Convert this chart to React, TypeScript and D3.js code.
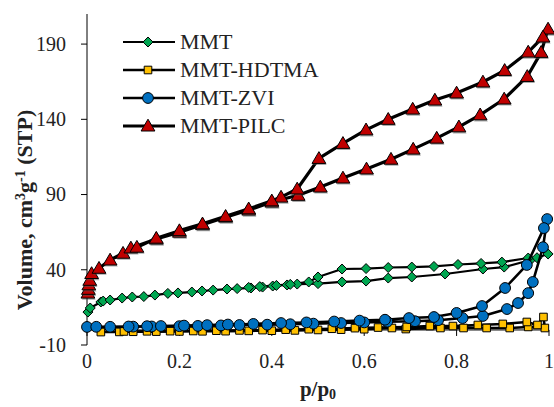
import React from 'react';
import * as d3 from 'd3';

const W = 554;
const H = 407;

// MMT - diamantes verdes (adsorción y luego desorción)
const mmtP = [0.002, 0.007, 0.03, 0.035, 0.05, 0.076, 0.098, 0.123, 0.147, 0.175, 0.197, 0.227, 0.249, 0.273, 0.303, 0.325, 0.355, 0.38, 0.402, 0.433, 0.455, 0.5, 0.552, 0.604, 0.652, 0.703, 0.775, 0.857, 0.903, 0.96, 0.998,
  0.974, 0.955, 0.898, 0.853, 0.803, 0.751, 0.703, 0.652, 0.604, 0.552, 0.5, 0.48, 0.44, 0.41, 0.374, 0.35];
const mmtV = [11.9, 14.6, 18.6, 19.2, 19.9, 21.2, 21.9, 22.2, 23.2, 24.3, 24.6, 25.2, 25.9, 26.5, 27.2, 27.5, 27.9, 28.5, 29.2, 29.9, 30.5, 30.8, 31.9, 32.5, 34.5, 35.2, 37.2, 40.5, 41.8, 46.5, 50.5,
  48, 47.8, 45.1, 44.2, 43.5, 42.2, 41.8, 41.5, 40.8, 40.5, 35.2, 31.9, 30.3, 29.6, 28.8, 28.3];

// MMT-HDTMA - cuadrados amarillos
const hdtmaP = [0.03, 0.07, 0.1, 0.15, 0.2, 0.25, 0.3, 0.35, 0.4, 0.45, 0.5, 0.55, 0.6, 0.66, 0.69, 0.765, 0.815, 0.865, 0.915, 0.955, 0.991,
  0.988, 0.975, 0.952, 0.9, 0.846, 0.792, 0.742, 0.692, 0.63, 0.58, 0.53, 0.48, 0.43, 0.38, 0.33, 0.28, 0.23, 0.18, 0.13, 0.08];
const hdtmaV = [-1.4, -1.3, -1.2, -1.1, -1, -0.9, -0.8, -0.6, -0.5, -0.3, 0, 0.2, 0.5, 1.3, 0.6, 1.3, 1.3, 1.3, 1.3, 2, 1.3,
  8.6, 3.3, 5.3, 4, 3.3, 2.6, 2.6, 2, 1.6, 1.2, 0.8, 0.5, 0.2, -0.1, -0.3, -0.5, -0.7, -0.8, -0.9, -1];

// MMT-ZVI - círculos azules
const zviP = [0.0, 0.05, 0.1, 0.14, 0.2, 0.24, 0.29, 0.33, 0.39, 0.44, 0.49, 0.55, 0.6, 0.65, 0.71, 0.76, 0.813, 0.857, 0.909, 0.933, 0.955, 0.965, 0.987, 0.996,
  0.989, 0.952, 0.905, 0.855, 0.8, 0.751, 0.697, 0.645, 0.59, 0.535, 0.475, 0.42, 0.36, 0.305, 0.26, 0.21, 0.16, 0.13, 0.09, 0.02];
const zviV = [2, 2.1, 2.2, 2.3, 2.5, 2.7, 3, 3.3, 3.5, 3.8, 4.2, 4.6, 5, 5.5, 5.8, 6.5, 7.9, 9.3, 13.9, 17.9, 24.5, 31.9, 55, 73.7,
  67.7, 43.2, 27.9, 15.9, 11.3, 8.6, 7.9, 6.8, 6.2, 5.6, 5, 4.6, 4, 3.6, 3.2, 2.9, 2.6, 2.5, 2.3, 2.1];

// MMT-PILC - triángulos rojos
const pilcP = [0.002, 0.003, 0.004, 0.006, 0.01, 0.026, 0.05, 0.078, 0.095, 0.15, 0.2, 0.25, 0.3, 0.35, 0.4, 0.457, 0.505, 0.554, 0.605, 0.658, 0.706, 0.757, 0.805, 0.851, 0.903, 0.953, 0.983, 0.998,
  0.987, 0.955, 0.904, 0.857, 0.8, 0.753, 0.705, 0.652, 0.604, 0.554, 0.502, 0.455, 0.42, 0.4, 0.35, 0.3, 0.25, 0.2, 0.15, 0.108];
const pilcV = [24.5, 27, 30, 33, 37.5, 41, 46.5, 51, 54.5, 60.4, 65, 70, 75, 79.7, 85, 89.5, 95, 101, 107, 113.5, 120.2, 127.5, 135, 143, 153.5, 168.5, 184.5, 200,
  194.7, 184.7, 172.5, 164.8, 157.5, 152.8, 146.8, 140, 133, 124, 114, 93.7, 88.3, 85.8, 80.5, 75.5, 70.5, 66, 61, 55];

const xTicks = [0, 0.2, 0.4, 0.6, 0.8, 1];
const yTicks = [-10, 40, 90, 140, 190];

const FONT = "'Liberation Serif', 'Times New Roman', serif";

const series = [
  { name: 'MMT', p: mmtP, v: mmtV, fill: '#00A651', shape: 'diamond', lw: 2.2 },
  { name: 'MMT-HDTMA', p: hdtmaP, v: hdtmaV, fill: '#FFC000', shape: 'square', lw: 2.6 },
  { name: 'MMT-ZVI', p: zviP, v: zviV, fill: '#0070C0', shape: 'circle', lw: 2.6 },
  { name: 'MMT-PILC', p: pilcP, v: pilcV, fill: '#C00000', shape: 'triangle', lw: 3.2 },
];

function markerPath(shape: string) {
  switch (shape) {
    case 'diamond': return 'M0,-5L5,0L0,5L-5,0Z';
    case 'square': return 'M-3.8,-3.8H3.8V3.8H-3.8Z';
    case 'circle': return 'M5.4,0A5.4,5.4 0 1,1 -5.4,0A5.4,5.4 0 1,1 5.4,0Z';
    default: return 'M0,-6.8L6.9,5L-6.9,5Z';
  }
}

export default function App() {
  const x = d3.scaleLinear().domain([0, 1]).range([87, 549]);
  const y = d3.scaleLinear().domain([-10, 210]).range([345, 14]);
  const line = d3.line<[number, number]>().x(d => x(d[0])).y(d => y(d[1]));

  return (
    <svg width={W} height={H} style={{ position: 'absolute', left: 0, top: 0, background: '#fff' }} fontFamily={FONT}>
      {/* Eje Y */}
      <line x1={x(0)} x2={x(0)} y1={y(210)} y2={y(-10)} stroke="#000" strokeWidth={1} />
      {yTicks.map(t => (
        <g key={t}>
          <line x1={x(0) - 6} x2={x(0)} y1={y(t)} y2={y(t)} stroke="#000" strokeWidth={1} />
          <text x={66} y={y(t)} dy="0.34em" textAnchor="end" fontSize={20} fill="#222">{t}</text>
        </g>
      ))}
      {/* Eje X (cruza en 0) */}
      <line x1={x(0)} x2={x(1)} y1={y(0)} y2={y(0)} stroke="#000" strokeWidth={1} />
      {xTicks.map(t => (
        <g key={t}>
          <line x1={x(t)} x2={x(t)} y1={y(0)} y2={y(0) + 6} stroke="#000" strokeWidth={1} />
          <text x={x(t)} y={368} textAnchor="middle" fontSize={20} fill="#222">{t}</text>
        </g>
      ))}
      {/* Series */}
      {series.map(s => {
        const pts = s.p.map((p, i) => [p, s.v[i]] as [number, number]);
        return (
          <g key={s.name}>
            <path d={line(pts) || ''} fill="none" stroke="#000" strokeWidth={s.lw} strokeLinejoin="round" />
            {pts.map((d, i) => (
              <g key={i} transform={`translate(${x(d[0])},${y(d[1])})`}>
                {s.shape === 'triangle' && (
                  <path d={markerPath(s.shape)} transform="translate(0.8,1.6)" fill="#555" opacity={0.5} />
                )}
                <path d={markerPath(s.shape)} fill={s.fill} stroke="#000" strokeWidth={1} />
              </g>
            ))}
          </g>
        );
      })}
      {/* Leyenda */}
      {series.map((s, i) => {
        const ly = 42 + i * 28;
        return (
          <g key={s.name}>
            <line x1={123} x2={175} y1={ly} y2={ly} stroke="#000" strokeWidth={s.lw} />
            <path d={markerPath(s.shape)} transform={`translate(148,${ly})`} fill={s.fill} stroke="#000" strokeWidth={1} />
            <text x={180} y={ly} dy="0.34em" fontSize={22} fill="#222">{s.name}</text>
          </g>
        );
      })}
      {/* Títulos de ejes */}
      <text transform={`translate(32,${(83 + 337) / 2}) rotate(-90)`} textAnchor="middle" fontSize={22} fontWeight="bold" fill="#222">
        Volume, cm<tspan baselineShift="super" fontSize={14}>3</tspan>g<tspan baselineShift="super" fontSize={14}>-1</tspan> (STP)
      </text>
      <text x={(x(0) + x(1)) / 2} y={396} textAnchor="middle" fontSize={21} fontWeight="bold" fill="#222">
        p/p<tspan dy={3} fontSize={14}>0</tspan>
      </text>
    </svg>
  );
}
